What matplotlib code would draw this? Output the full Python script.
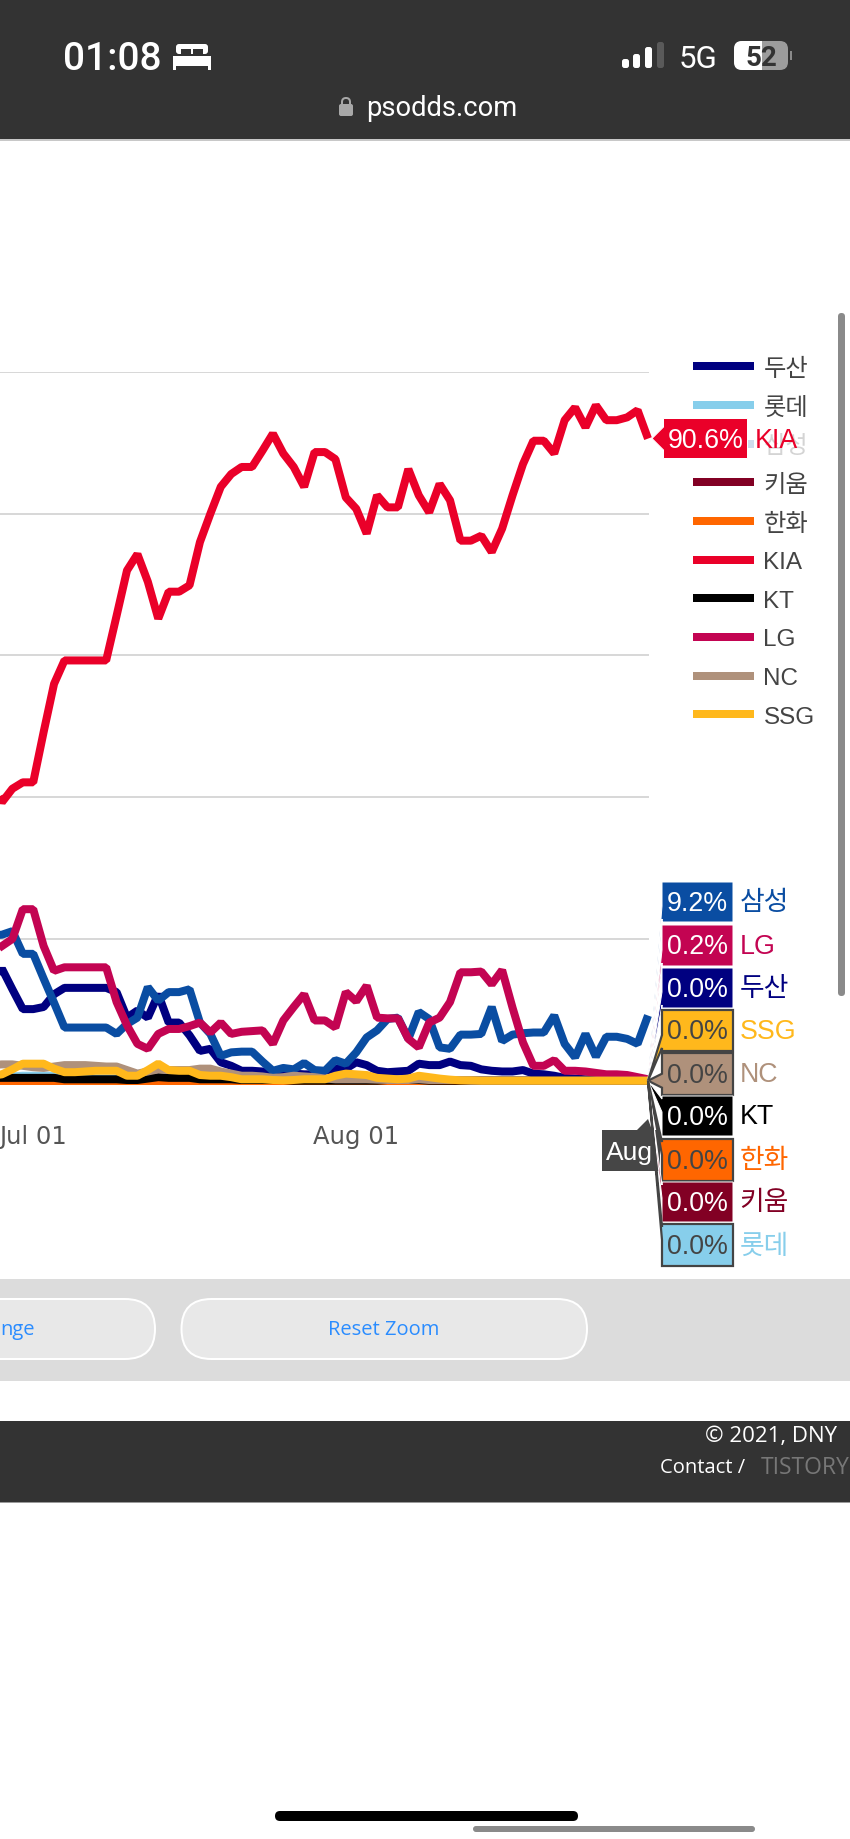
"""Win-probability chart from a phone screenshot of psodds.com."""
import matplotlib
matplotlib.use("Agg")
import matplotlib.dates as mdates
import matplotlib.pyplot as plt
import pandas as pd
from matplotlib.patches import FancyBboxPatch, Polygon, Rectangle

# data, 2024-06-27 to 2024-08-29
start_date = "2024-06-27"
end_date = "2024-08-29"

doosan = [12.9, 15.8, 12.9, 10.1, 10.1, 10.4, 12.2, 13.1, 13.1, 13.1, 13.1, 13.1, 12.5, 8.9, 9.9, 8.9,
          12.2, 8.2, 8.2, 6.4, 4.2, 4.5, 2.6, 2.1, 1.4, 1.4, 1.3, 0.7, 1.0, 1.0, 0.9, 0.9,
          1.4, 1.7, 1.7, 2.6, 2.2, 1.4, 1.2, 1.3, 1.4, 2.4, 2.2, 2.2, 2.7, 2.2, 2.1, 1.6,
          1.4, 1.3, 1.3, 1.5, 1.0, 0.9, 0.7, 0.4, 0.3, 0.2, 0.2, 0.1, 0.1, 0.1, 0.0, 0.0]
lotte = [0.5, 0.5, 0.6, 0.7, 0.7, 0.7, 0.7, 0.5, 0.4, 0.4, 0.3, 0.3, 0.3, 0.2, 0.2, 0.2,
         0.2, 0.1, 0.1, 0.1, 0.1, 0.1, 0.1, 0.1, 0.0, 0.0, 0.0, 0.0, 0.0, 0.0, 0.0, 0.0,
         0.0, 0.0, 0.0, 0.0, 0.0, 0.0, 0.0, 0.0, 0.0, 0.0, 0.0, 0.0, 0.0, 0.0, 0.0, 0.0,
         0.0, 0.0, 0.0, 0.0, 0.0, 0.0, 0.0, 0.0, 0.0, 0.0, 0.0, 0.0, 0.0, 0.0, 0.0, 0.0]
samsung = [20.5, 20.6, 21.1, 17.9, 17.9, 14.4, 11.0, 7.5, 7.5, 7.5, 7.5, 7.5, 6.6, 8.0, 8.9, 13.2,
           11.3, 12.5, 12.5, 12.9, 8.2, 6.6, 3.5, 4.0, 4.1, 4.1, 2.7, 1.4, 1.8, 1.6, 2.5, 1.5,
           1.4, 2.9, 2.4, 4.0, 6.1, 7.1, 8.7, 8.9, 5.9, 9.7, 8.7, 4.7, 4.5, 6.5, 6.5, 6.6,
           10.4, 5.6, 6.5, 6.7, 6.8, 6.8, 9.2, 5.2, 3.3, 6.6, 3.4, 6.2, 6.2, 5.9, 5.2, 9.2]
kiwoom = [0.1, 0.1, 0.1, 0.1, 0.1, 0.1, 0.1, 0.1, 0.1, 0.1, 0.1, 0.1, 0.1, 0.0, 0.0, 0.0,
          0.0, 0.0, 0.0, 0.0, 0.0, 0.0, 0.0, 0.0, 0.0, 0.0, 0.0, 0.0, 0.0, 0.0, 0.0, 0.0,
          0.0, 0.0, 0.0, 0.0, 0.0, 0.0, 0.0, 0.0, 0.0, 0.0, 0.0, 0.0, 0.0, 0.0, 0.0, 0.0,
          0.0, 0.0, 0.0, 0.0, 0.0, 0.0, 0.0, 0.0, 0.0, 0.0, 0.0, 0.0, 0.0, 0.0, 0.0, 0.0]
hanwha = [0.0, 0.0, 0.0, 0.0, 0.0, 0.0, 0.0, 0.0, 0.0, 0.0, 0.0, 0.0, 0.0, 0.0, 0.0, 0.0,
          0.0, 0.0, 0.0, 0.0, 0.0, 0.0, 0.0, 0.0, 0.0, 0.0, 0.0, 0.0, 0.0, 0.0, 0.0, 0.0,
          0.0, 0.0, 0.0, 0.0, 0.0, 0.0, 0.0, 0.0, 0.0, 0.0, 0.0, 0.0, 0.0, 0.0, 0.0, 0.0,
          0.0, 0.0, 0.0, 0.0, 0.0, 0.0, 0.0, 0.0, 0.0, 0.0, 0.0, 0.0, 0.0, 0.0, 0.0, 0.0]
kia = [42.1, 39.3, 41.2, 42.1, 42.1, 49.2, 56.0, 59.3, 59.3, 59.3, 59.3, 59.3, 65.6, 72.0, 74.3, 70.4,
       65.2, 69.0, 69.0, 69.9, 76.0, 80.0, 83.8, 85.6, 86.6, 86.6, 88.9, 91.3, 88.5, 86.6, 83.8, 88.7,
       88.7, 87.7, 82.3, 80.7, 77.2, 82.6, 80.9, 80.9, 86.3, 82.6, 80.2, 84.2, 81.9, 76.2, 76.2, 76.9,
       74.6, 77.9, 82.6, 87.0, 90.3, 90.3, 88.5, 93.2, 95.0, 92.2, 95.3, 93.2, 93.2, 93.6, 94.6, 90.6]
kt = [0.4, 0.4, 0.4, 0.4, 0.4, 0.4, 0.4, 0.2, 0.2, 0.2, 0.2, 0.2, 0.2, 0.1, 0.1, 0.3,
      0.5, 0.4, 0.4, 0.4, 0.2, 0.2, 0.2, 0.2, 0.1, 0.1, 0.1, 0.1, 0.1, 0.0, 0.0, 0.0,
      0.0, 0.0, 0.0, 0.0, 0.0, 0.0, 0.1, 0.1, 0.1, 0.1, 0.0, 0.0, 0.0, 0.0, 0.0, 0.0,
      0.0, 0.0, 0.0, 0.0, 0.0, 0.0, 0.0, 0.0, 0.0, 0.0, 0.0, 0.0, 0.0, 0.0, 0.0, 0.0]
lg = [18.0, 19.0, 20.0, 24.2, 24.2, 19.0, 15.5, 16.0, 16.0, 16.0, 16.0, 16.0, 11.1, 7.8, 5.2, 4.5,
      6.6, 7.3, 7.3, 7.7, 8.2, 6.8, 8.2, 6.6, 6.9, 7.0, 7.1, 5.2, 8.5, 10.4, 12.2, 8.5,
      8.5, 7.5, 12.5, 11.2, 13.4, 8.9, 8.8, 8.8, 5.9, 4.7, 8.2, 8.9, 11.1, 15.3, 15.3, 15.4,
      13.6, 15.6, 10.3, 5.4, 2.1, 2.1, 2.9, 1.4, 1.4, 1.3, 1.1, 0.9, 0.9, 0.8, 0.5, 0.2]
nc = [2.2, 2.3, 2.3, 2.1, 1.9, 1.8, 2.0, 2.2, 2.2, 2.2, 2.1, 2.0, 2.0, 1.5, 1.0, 1.3,
      1.6, 1.5, 1.5, 1.5, 1.7, 1.7, 1.3, 1.0, 0.7, 0.7, 0.6, 0.4, 0.5, 0.7, 0.6, 0.5,
      0.3, 0.2, 0.2, 0.2, 0.2, 0.15, 0.1, 0.1, 0.1, 0.2, 0.1, 0.1, 0.1, 0.1, 0.0, 0.0,
      0.0, 0.0, 0.0, 0.0, 0.0, 0.0, 0.0, 0.0, 0.0, 0.0, 0.0, 0.0, 0.0, 0.0, 0.0, 0.0]
ssg = [0.7, 0.9, 1.6, 2.4, 2.4, 2.4, 1.7, 1.2, 1.2, 1.3, 1.4, 1.4, 1.4, 0.7, 0.7, 1.5,
       2.4, 1.5, 1.4, 1.4, 0.8, 0.7, 0.7, 0.5, 0.2, 0.2, 0.2, 0.1, 0.05, 0.1, 0.2, 0.2,
       0.2, 0.7, 1.0, 0.9, 0.8, 0.4, 0.3, 0.2, 0.3, 0.7, 0.5, 0.3, 0.15, 0.05, 0.05, 0.0,
       0.0, 0.0, 0.0, 0.0, 0.0, 0.0, 0.0, 0.0, 0.0, 0.0, 0.0, 0.0, 0.0, 0.0, 0.0, 0.0]

team_names = ["두산", "롯데", "삼성", "키움", "한화", "KIA", "KT", "LG", "NC", "SSG"]
team_values = [doosan, lotte, samsung, kiwoom, hanwha, kia, kt, lg, nc, ssg]
team_colors = ["#000080", "#87CEEB", "#0A4DA2", "#820024", "#FF6600",
               "#EA0029", "#000000", "#C30452", "#AF917B", "#FFB81C"]
color_of = dict(zip(team_names, team_colors))

# tooltip stack, top to bottom, below the KIA one
stack_names = ["삼성", "LG", "두산", "SSG", "NC", "KT", "한화", "키움", "롯데"]
stack_values = ["9.2%", "0.2%", "0.0%", "0.0%", "0.0%", "0.0%", "0.0%", "0.0%", "0.0%"]
kia_value = "90.6%"
grid_values = [20, 40, 60, 80, 100]
tick_dates = ["2024-07-01", "2024-08-01"]

# layout, all in screenshot pixels
W, H = 850, 1840
DPI = 100
PX = 72 / DPI
PLOT_RIGHT = 649
END_X = 648
DAY_PX = 10.42
Y0_PX, Y100_PX = 1081.7, 373
LATIN = ["Liberation Sans", "Noto Sans CJK KR"]
UI = ["Open Sans", "Noto Sans CJK KR"]
GREY_TEXT = "#444444"
BRIGHT = ["SSG", "NC", "한화", "롯데"]

fig = plt.figure(figsize=(W / DPI, H / DPI), dpi=DPI, facecolor="white")

################ the chart

chart = fig.add_axes([0, 1 - Y0_PX / H, PLOT_RIGHT / W, (Y0_PX - Y100_PX) / H], zorder=1)
chart.patch.set_alpha(0)

dates = pd.date_range(start_date, end_date)
xnums = mdates.date2num(dates)
for name, values, color in zip(team_names, team_values, team_colors):
    chart.plot(xnums, values, color=color, linewidth=8 * PX, clip_on=False,
        solid_joinstyle="bevel", solid_capstyle="butt", zorder=3)

chart.set_xlim(xnums[-1] - END_X / DAY_PX, xnums[-1] + (PLOT_RIGHT - END_X) / DAY_PX)
chart.set_ylim(0, 100)
chart.set_yticks(grid_values)
chart.grid(axis="y", color="#d8d8d8", linewidth=2 * PX)
chart.set_axisbelow(True)
chart.set_xticks(mdates.date2num(pd.to_datetime(tick_dates)))
chart.xaxis.set_major_formatter(mdates.DateFormatter("%b %d"))
chart.tick_params(axis="y", left=False, labelleft=False)
chart.tick_params(axis="x", bottom=False, pad=27.5, labelsize=17.5, labelcolor="#555555")
for spine in chart.spines.values():
    spine.set_visible(False)

################ page furniture, drawn over the chart in pixel coordinates

ax = fig.add_axes([0, 0, 1, 1], zorder=2)
ax.set_xlim(0, W)
ax.set_ylim(H, 0)
ax.axis("off")


def rect(x0, y0, x1, y1, color, z=1, **kw):
    patch = Rectangle((x0, y0), x1 - x0, y1 - y0, facecolor=color, edgecolor="none", zorder=z, **kw)
    ax.add_patch(patch)
    return patch


def pill(x0, y0, x1, y1, r, color, edge="none", lw=0, z=1):
    patch = FancyBboxPatch((x0 + r, y0 + r), x1 - x0 - 2 * r, y1 - y0 - 2 * r,
        boxstyle=f"round,pad={r},rounding_size={r}", facecolor=color, edgecolor=edge,
        linewidth=lw * PX, zorder=z)
    ax.add_patch(patch)
    return patch


# status bar
rect(0, 0, W, 140, "#333333")
rect(0, 140, W, 141.5, "#c8c8c8")
ax.text(63, 59, "01:08", color="white", fontsize=28, family="Roboto", ha="left", va="center", weight="medium", zorder=3)
# bed
rect(173, 57, 211, 67, "white", z=3)
rect(173, 66, 176, 71, "white", z=3)
rect(208, 66, 211, 71, "white", z=3)
pill(176, 45, 208, 55, 3, "white", z=3)
rect(181, 50, 191, 55, "#333333", z=3)
rect(193, 50, 203, 55, "#333333", z=3)
# signal
for bar_x, bar_top, bar_color in zip([622, 633, 645, 657], [60, 55, 48, 43],
                                     ["white", "white", "white", "#5a5a5a"]):
    pill(bar_x, bar_top, bar_x + 7, 69, 2.5, bar_color, z=3)
ax.text(679, 59.5, "5G", color="white", fontsize=22.5, family="Roboto", ha="left", va="center", zorder=3)
# battery
shell = pill(734, 42, 788, 71, 8, "#9c9c9c", z=3)
fill = rect(734, 42, 762, 71, "white", z=3)
fill.set_clip_path(shell)
ax.add_patch(Rectangle((790, 52), 2, 9, facecolor="#8a8a8a", edgecolor="none", zorder=3))
ax.text(761, 58, "52", color="#333333", fontsize=20, family="Roboto", weight="bold", ha="center", va="center", zorder=4)
# address
pill(339, 105, 353, 117, 2, "#a8a8a8", z=3)
ax.add_patch(FancyBboxPatch((342, 99), 8, 10, boxstyle="round,pad=0,rounding_size=4",
    facecolor="none", edgecolor="#a8a8a8", linewidth=2 * PX, zorder=3))
ax.text(366, 109, "psodds.com", color="white", fontsize=19.7, family="Roboto", ha="left", va="center", zorder=3)

# legend
legend_top, legend_step = 367.3, 38.67
for i, (name, color) in enumerate(zip(team_names, team_colors)):
    y = legend_top + legend_step * i
    hidden = name == "삼성"
    rect(693, y - 4, 754, y + 4, "#cfdcec" if hidden else color, z=2)
    ax.text(763.5, y + 2.5, name, color="#d4d4d4" if hidden else GREY_TEXT, fontsize=17.5,
        family=LATIN, ha="left", va="center", zorder=2)

# x crosshair label, mostly hidden by the stack
ax.add_patch(Polygon([(602, 1131), (637, 1131), (648, 1120), (652, 1131), (660, 1131), (660, 1172), (602, 1172)],
    facecolor="#464646", edgecolor="none", zorder=3))
ax.text(606, 1153, "Aug", color="white", fontsize=19, family=LATIN, ha="left", va="center", zorder=3)


def callout(name, value, left, right, top, bottom, tip, base0, base1, z):
    """Tooltip box with its pointer, then the value and the team name beside it."""
    color = color_of[name]
    bright = name in BRIGHT
    edge = GREY_TEXT if bright else "white"
    ax.add_patch(Polygon([(left, top), (right, top), (right, bottom), (left, bottom),
            (left, base1), tip, (left, base0)],
        facecolor=color, edgecolor=edge, linewidth=(2.2 if bright else 1) * PX, joinstyle="miter", zorder=z))
    ax.text((left + right) / 2, (top + bottom) / 2 + 1, value, color=GREY_TEXT if bright else "white",
        fontsize=19.3, family=LATIN, ha="center", va="center", zorder=z + 0.1)


# KIA tooltip sits up by its own point
callout("KIA", kia_value, 663.5, 747.5, 419.5, 459.5, (652, 439.5), 428, 451, 6)
ax.text(755, 440.5, "KIA", color=color_of["KIA"], fontsize=19.3, family=LATIN, ha="left", va="center", zorder=6)

stack_tops = [883, 926, 969, 1011, 1054, 1097, 1140, 1183, 1225]
stack_bottoms = [923, 967, 1009, 1052, 1096, 1137, 1182, 1223, 1267]
tip = (648, Y0_PX)
for name, value, top, bottom in zip(stack_names, stack_values, stack_tops, stack_bottoms):
    if bottom < tip[1] - 6:
        base0, base1 = bottom - 16, bottom - 3
    elif top > tip[1] + 6:
        base0, base1 = top + 3, top + 16
    else:
        base0, base1 = tip[1] - 7, tip[1] + 7
    callout(name, value, 662, 733, top, bottom, tip, base0, base1, 4)
    ax.text(739.5, (top + bottom) / 2 + 0.5, name, color=color_of[name], fontsize=19.3, family=LATIN,
        ha="left", va="center", zorder=5)

# scrollbars
pill(838, 314, 845, 997, 3.5, "#8a8a8a", z=3)
pill(473, 1827, 755, 1833, 3, "#8a8a8a", z=3)
pill(275, 1812, 578, 1822, 5, "#000000", z=3)

# button bar
rect(0, 1279.5, W, 1381.5, "#dcdcdc")
pill(-120, 1300, 155, 1360, 30, "#e8e8e8", edge="white", lw=2, z=2)
pill(181.5, 1300, 587, 1360, 30, "#e8e8e8", edge="white", lw=2, z=2)
ax.text(35, 1330, "nge", color="#2a8cff", fontsize=14.5, family=UI, ha="right", va="center", zorder=3)
ax.text(384, 1330, "Reset Zoom", color="#2a8cff", fontsize=14.5, family=UI, ha="center", va="center", zorder=3)

# footer
rect(0, 1422, W, 1503, "#333333")
rect(0, 1503, W, 1504, "#9a9a9a")
ax.text(837, 1437, "© 2021, DNY", color="white", fontsize=16, family=UI, ha="right", va="center", zorder=3)
ax.text(660, 1468, "Contact / ", color="white", fontsize=14.5, family=UI, ha="left", va="center", zorder=3)
ax.text(761, 1468, "TISTORY", color="#777777", fontsize=16.5, family=UI, ha="left", va="center", zorder=3)

fig.savefig("out.png", dpi=DPI)
plt.close(fig)
